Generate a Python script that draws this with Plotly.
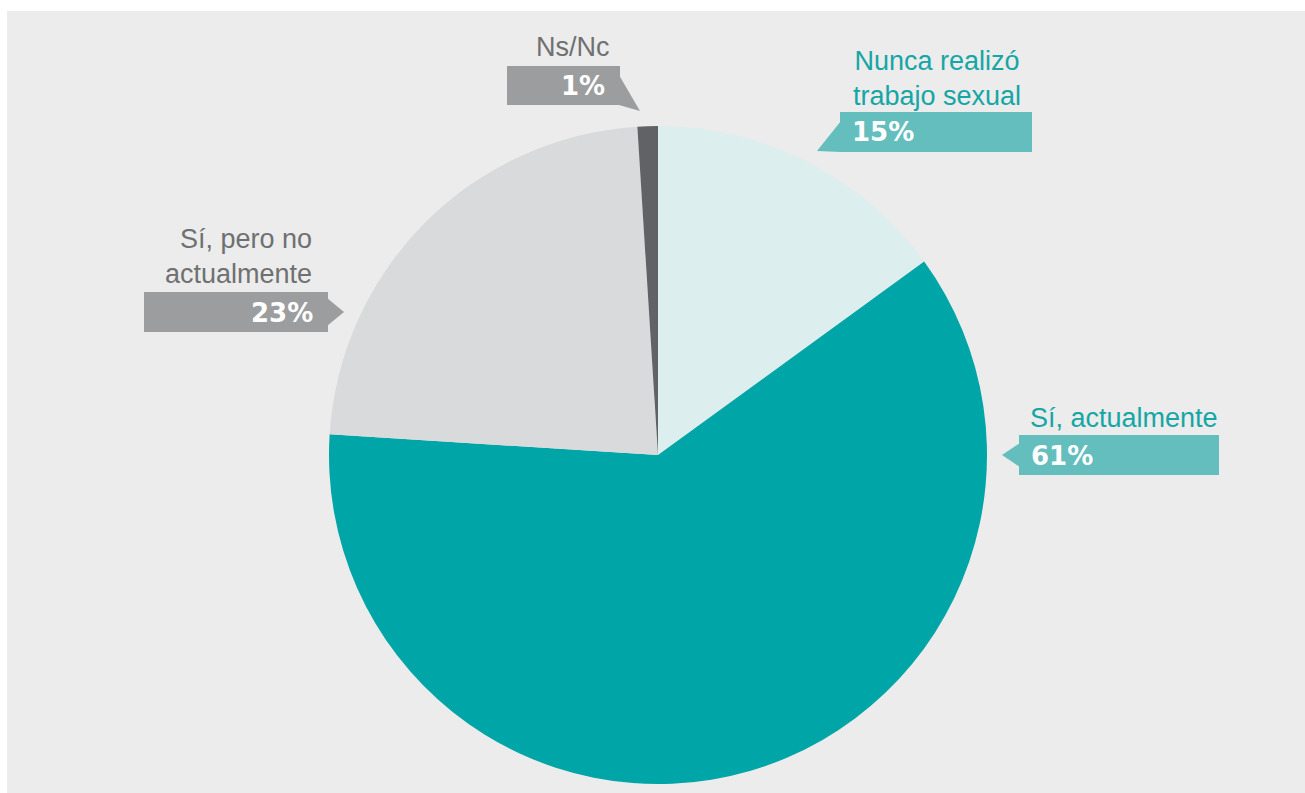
import plotly.graph_objects as go

# Survey answers, clockwise from 12 o'clock
categories = ["Nunca realizó trabajo sexual", "Sí, actualmente", "Sí, pero no actualmente", "Ns/Nc"]
values = [15, 61, 23, 1]
slice_colors = ["#DDEEEE", "#00A5A7", "#D9DADC", "#606265"]
callout_titles = ["Nunca realizó<br>trabajo sexual", "Sí, actualmente", "Sí, pero no<br>actualmente", "Ns/Nc"]

W, H = 1305, 793
TEAL_TXT = "#15A6A6"
GRAY_TXT = "#6F7072"
TEAL_BOX = "#64BEBD"
GRAY_BOX = "#9C9D9F"


def px(x):
    return x / W


def py(y):
    return 1 - y / H


fig = go.Figure()

fig.add_trace(go.Pie(
    labels=categories,
    values=values,
    sort=False,
    direction="clockwise",
    rotation=0,
    marker=dict(colors=slice_colors, line=dict(width=0)),
    textinfo="none",
    hoverinfo="skip",
    showlegend=False,
    domain=dict(x=[px(329), px(987)], y=[py(784), py(126)]),
))

shapes = [
    # panel background
    dict(type="rect", xref="paper", yref="paper", x0=px(7), x1=1, y0=0, y1=py(11),
         fillcolor="#EBECEB", line=dict(width=0), layer="below"),
]


def callout(box, tri, color):
    x0, y0, x1, y1 = box
    shapes.append(dict(type="rect", xref="paper", yref="paper",
                       x0=px(x0), x1=px(x1), y0=py(y1), y1=py(y0),
                       fillcolor=color, line=dict(width=0), layer="above"))
    pts = " L ".join(f"{px(a):.5f},{py(b):.5f}" for a, b in tri)
    shapes.append(dict(type="path", xref="paper", yref="paper", path=f"M {pts} Z",
                       fillcolor=color, line=dict(width=0), layer="above"))


# boxes: (left, top, right, bottom) and their pointer triangles
callout((840, 112, 1032, 152), [(841, 121), (817, 151), (841, 152)], TEAL_BOX)
callout((1019, 435, 1219, 475), [(1020, 443), (1002, 455), (1020, 467)], TEAL_BOX)
callout((144, 292, 328, 332), [(327, 298), (344, 312), (327, 326)], GRAY_BOX)
callout((507, 66, 620, 105), [(619, 75), (640, 111), (619, 105)], GRAY_BOX)

title_font = dict(family="Liberation Sans, Arial, sans-serif", size=27)
pct_font = dict(family="DejaVu Sans, sans-serif", size=26, color="white", weight="bold")

annotations = []


def add_text(x, y, text, font, xanchor):
    annotations.append(dict(x=px(x), y=py(y), xref="paper", yref="paper", text=text,
                            showarrow=False, font=font, xanchor=xanchor, yanchor="middle",
                            align={"left": "left", "right": "right", "center": "center"}[xanchor]))


pct = [f"{v}%" for v in values]

# Nunca realizó trabajo sexual
add_text(937, 78, callout_titles[0], dict(title_font, color=TEAL_TXT), "center")
add_text(850, 132, pct[0], pct_font, "left")
# Sí, actualmente
add_text(1028, 418, callout_titles[1], dict(title_font, color=TEAL_TXT), "left")
add_text(1029, 456, pct[1], pct_font, "left")
# Sí, pero no actualmente
add_text(314, 256, callout_titles[2], dict(title_font, color=GRAY_TXT), "right")
add_text(315, 313, pct[2], pct_font, "right")
# Ns/Nc
add_text(573, 47, callout_titles[3], dict(title_font, color=GRAY_TXT), "center")
add_text(607, 86, pct[3], pct_font, "right")

fig.update_layout(
    width=W, height=H,
    margin=dict(l=0, r=0, t=0, b=0),
    paper_bgcolor="white",
    plot_bgcolor="white",
    shapes=shapes,
    annotations=annotations,
    showlegend=False,
)

fig.write_html("out.html")
